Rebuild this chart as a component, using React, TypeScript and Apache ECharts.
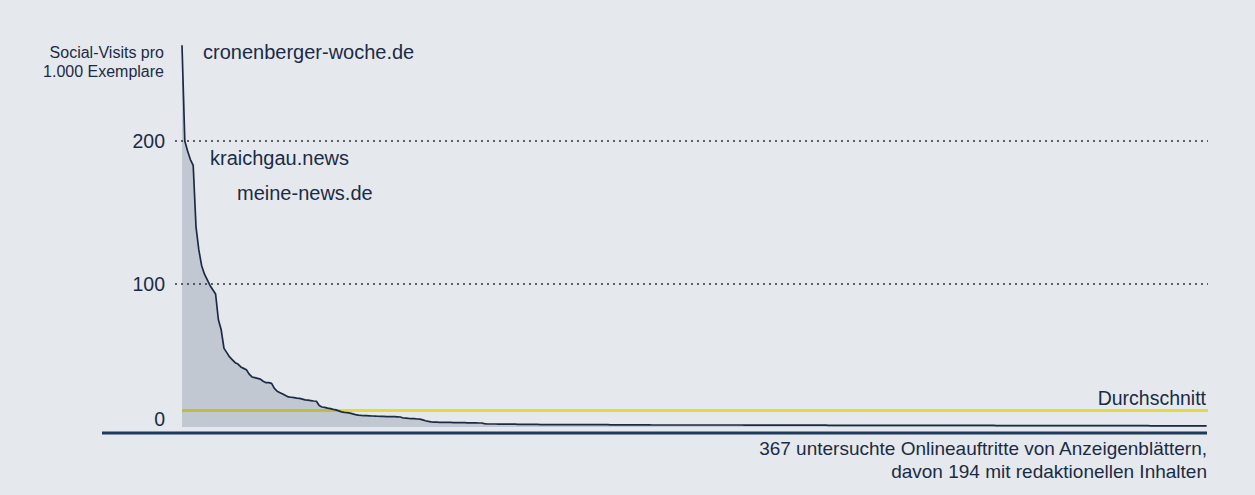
import React, { useEffect, useRef } from "react";
import * as echarts from "echarts";

// Social-Visits pro 1.000 Exemplare, ranked (367 Onlineauftritte)
const headValues = [
  267, 200, 193, 187, 183, 140, 124, 113, 107, 103,
  99, 96, 93, 75, 68, 55, 52, 49, 47, 45,
  44, 42, 41, 40, 37, 35, 34.5, 34, 33.5, 32,
  31, 31, 30.5, 27, 25, 24, 23, 22, 21, 20.8,
  20.5, 20.2, 20, 19.5, 19, 18.8, 18.5, 18.2, 18, 15,
  14, 13.7, 13.2, 12.8, 12.3, 12, 11.3, 10.6, 10.2, 10,
  9.7, 9.2, 8.7, 8.3, 8.1, 8, 7.9, 7.8, 7.7,
];
const midValues = [
  7.6, 7.5, 7.4, 7.4, 7.3, 7.3, 7.2, 7.2, 7.1, 7.0,
  6.3, 6.2, 6.0, 5.9, 5.8, 5.6, 5.5, 5.0, 4.4, 3.9, 3.6,
  3.4, 3.4, 3.3, 3.3, 3.2, 3.2, 3.2, 3.1, 3.1, 3.0,
  3.0, 3.0, 2.9, 2.9, 2.9, 2.9, 2.8, 2.8,
  2.4,
];
const tailA = [
  2.1, 2.1, 2.1, 2.1, 2.0, 2.0, 2.0, 2.0, 2.0, 2.0,
  2.0, 1.9, 1.9, 1.9, 1.9, 1.9, 1.9, 1.9, 1.8,
];
const tailB = [
  1.7, 1.7, 1.7, 1.7, 1.7, 1.7, 1.7, 1.7, 1.7, 1.7,
  1.6, 1.6, 1.6, 1.6, 1.6, 1.6, 1.6, 1.6, 1.6, 1.6,
  1.6, 1.6, 1.6, 1.6, 1.6,
  1.5, 1.5, 1.5, 1.5, 1.5, 1.5, 1.5, 1.5, 1.5, 1.5,
  1.5, 1.5, 1.5, 1.5, 1.5,
  1.4, 1.4, 1.4, 1.4, 1.4, 1.4, 1.4, 1.4, 1.4, 1.4,
  1.4, 1.4, 1.4,
];
const tailC = [
  1.4, 1.4, 1.4, 1.4, 1.4, 1.4, 1.4, 1.4, 1.4, 1.4,
  1.4, 1.4, 1.4, 1.4, 1.4, 1.4, 1.4, 1.4, 1.4, 1.4,
  1.3, 1.3, 1.3, 1.3, 1.3, 1.3, 1.3, 1.3, 1.3, 1.3,
  1.3, 1.3, 1.3, 1.3, 1.3, 1.3, 1.3, 1.3, 1.3, 1.3,
  1.3, 1.3, 1.3, 1.3, 1.3, 1.3, 1.3, 1.3, 1.3, 1.3,
  1.2, 1.2, 1.2, 1.2, 1.2, 1.2, 1.2, 1.2, 1.2, 1.2,
  1.2, 1.2, 1.2, 1.2, 1.2, 1.2, 1.2, 1.2, 1.2, 1.2,
  1.2, 1.2, 1.2, 1.2, 1.2, 1.2, 1.2, 1.2, 1.2, 1.2,
];
const tailD = [
  1.1, 1.1, 1.1, 1.1, 1.1, 1.1, 1.1, 1.1, 1.1, 1.1,
  1.1, 1.1, 1.1, 1.1, 1.1, 1.1, 1.1, 1.1, 1.1, 1.1,
  1.1, 1.1, 1.1, 1.1, 1.1, 1.1, 1.1, 1.1, 1.1, 1.1,
  1.0, 1.0, 1.0, 1.0, 1.0, 1.0, 1.0, 1.0, 1.0, 1.0,
  1.0, 1.0, 1.0, 1.0, 1.0, 1.0, 1.0, 1.0, 1.0, 1.0,
  1.0, 1.0, 1.0, 1.0, 1.0, 1.0, 1.0, 1.0, 1.0, 1.0,
  0.9, 0.9, 0.9, 0.9, 0.9, 0.9, 0.9, 0.9, 0.9, 0.9,
  0.9, 0.9, 0.9, 0.9, 0.9, 0.9, 0.9, 0.9, 0.9, 0.9,
  0.9, 0.9, 0.9, 0.9, 0.9,
  0.8, 0.8, 0.8, 0.8, 0.8, 0.8, 0.8, 0.8, 0.8, 0.8,
  0.8, 0.8, 0.8, 0.8, 0.8, 0.8, 0.8, 0.8, 0.8, 0.8,
  0.8,
];
const values = [...headValues, ...midValues, ...tailA, ...tailB, ...tailC, ...tailD];

const averageValue = 11.5;
const yTickLabels = [0, 100, 200];
const gridLineValues = [100, 200];
const siteLabels = ["cronenberger-woche.de", "kraichgau.news", "meine-news.de"];
const yAxisTitle = ["Social-Visits pro", "1.000 Exemplare"];
const averageLabel = "Durchschnitt";
const footnote = [
  "367 untersuchte Onlineauftritte von Anzeigenblättern,",
  "davon 194 mit redaktionellen Inhalten",
];

const FONT = "'Liberation Sans', Arial, Helvetica, sans-serif";
const NAVY = "#1c2b45";

export default function App() {
  const ref = useRef<HTMLDivElement>(null);

  useEffect(() => {
    document.body.style.margin = "0";
    if (!ref.current) return;
    const chart = echarts.init(ref.current, undefined, { renderer: "svg" });
    const lastIndex = values.length - 1;

    const option: any = {
      animation: false,
      backgroundColor: "#e5e9ed",
      grid: { left: 175, right: 47, top: 26.6, bottom: 68 },
      xAxis: {
        type: "value",
        min: -2.5,
        max: lastIndex + 0.5,
        show: false,
      },
      yAxis: {
        type: "value",
        min: 0,
        max: 280,
        interval: 100,
        axisLine: { show: false },
        axisTick: { show: false },
        splitLine: { show: false },
        axisLabel: {
          margin: 10,
          fontSize: 19.5,
          fontFamily: FONT,
          color: NAVY,
          formatter: (v: number) =>
            v === 0 ? "{z|0}" : yTickLabels.includes(v) ? String(v) : "",
          rich: {
            z: { fontSize: 19.5, fontFamily: FONT, color: NAVY, padding: [0, 0, 16, 0] },
          },
        },
      },
      series: [
        {
          name: "Durchschnitt",
          type: "line",
          z: 1,
          silent: true,
          showSymbol: false,
          data: [
            [0, averageValue],
            [lastIndex + 0.5, averageValue],
          ],
          lineStyle: { color: "#e3da3c", width: 3 },
        },
        {
          name: "Social-Visits",
          type: "line",
          z: 2,
          silent: true,
          showSymbol: false,
          data: values.map((v, i) => [i, v]),
          lineStyle: { color: NAVY, width: 1.7 },
          areaStyle: { color: "rgba(35,60,95,0.27)" },
          markLine: {
            silent: true,
            symbol: ["none", "none"],
            label: { show: false },
            lineStyle: { color: "#2c3444", type: [2, 4], width: 1.5 },
            data: gridLineValues.map((g) => ({ yAxis: g })),
          },
        },
      ],
      graphic: [
        {
          type: "line",
          shape: { x1: 102, y1: 433, x2: 1207, y2: 433 },
          style: { stroke: "#1d3a5c", lineWidth: 2.8 },
          silent: true,
        },
        {
          type: "text",
          x: 164,
          y: 52,
          style: {
            text: yAxisTitle[0],
            fill: NAVY,
            font: `16px ${FONT}`,
            align: "right",
            verticalAlign: "middle",
          },
        },
        {
          type: "text",
          x: 164,
          y: 71,
          style: {
            text: yAxisTitle[1],
            fill: NAVY,
            font: `16px ${FONT}`,
            align: "right",
            verticalAlign: "middle",
          },
        },
        {
          type: "text",
          x: 203,
          y: 52,
          style: { text: siteLabels[0], fill: NAVY, font: `20px ${FONT}`, verticalAlign: "middle" },
        },
        {
          type: "text",
          x: 210,
          y: 158,
          style: { text: siteLabels[1], fill: NAVY, font: `20px ${FONT}`, verticalAlign: "middle" },
        },
        {
          type: "text",
          x: 237,
          y: 193,
          style: { text: siteLabels[2], fill: NAVY, font: `20px ${FONT}`, verticalAlign: "middle" },
        },
        {
          type: "text",
          x: 1206,
          y: 398,
          style: {
            text: averageLabel,
            fill: NAVY,
            font: `19.5px ${FONT}`,
            align: "right",
            verticalAlign: "middle",
          },
        },
        {
          type: "text",
          x: 1207,
          y: 448,
          style: {
            text: footnote[0],
            fill: NAVY,
            font: `19px ${FONT}`,
            align: "right",
            verticalAlign: "middle",
          },
        },
        {
          type: "text",
          x: 1207,
          y: 471,
          style: {
            text: footnote[1],
            fill: NAVY,
            font: `19px ${FONT}`,
            align: "right",
            verticalAlign: "middle",
          },
        },
      ],
    };

    chart.setOption(option);
    return () => chart.dispose();
  }, []);

  return <div ref={ref} style={{ width: 1255, height: 495 }} />;
}
